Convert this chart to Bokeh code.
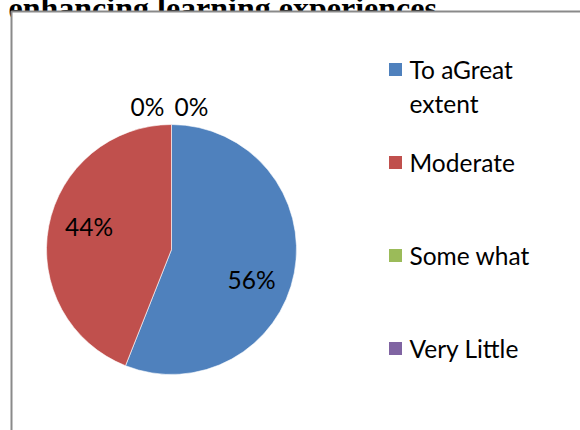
import math
from bokeh.plotting import figure
from bokeh.models import Range1d
from bokeh.core.properties import value
from bokeh.embed import file_html
from bokeh.resources import INLINE

# ---- data ----
categories = ["To aGreat extent", "Moderate", "Some what", "Very Little"]
legend_lines = [["To aGreat", "extent"], ["Moderate"], ["Some what"], ["Very Little"]]
values = [56, 44, 0, 0]
colors = ["#4F81BD", "#C0504D", "#9BBB59", "#8064A2"]
title_text = "enhancing learning experiences"

# ---- layout ----
W, H = 580, 430
CX, CY, R = 171, 249, 125
FONT = "Lato"
FS = "24.5px"

p = figure(width=W + 8, height=H + 8, x_range=Range1d(-8, W), y_range=Range1d(H, -8),
           output_backend="svg", toolbar_location=None, min_border=0)
p.margin = (-8, 0, -8, -8)
p.axis.visible = False
p.xgrid.visible = False
p.ygrid.visible = False
p.outline_line_color = None
p.background_fill_color = "white"
p.border_fill_color = "white"

# partially visible title
p.text(x=[8], y=[7], text=[title_text], text_font=value("Liberation Serif"),
       text_font_style="bold", text_font_size="32px", text_baseline="alphabetic",
       text_align="left", text_color="black")

# chart frame
p.quad(left=[11], right=[620], top=[11], bottom=[470], fill_color="white",
       line_color="#8a8a8a", line_width=2)

# pie
total = float(sum(values))
starts, ends, mids = [], [], []
a = math.pi / 2
for v in values:
    sweep = 2 * math.pi * v / total
    starts.append(a)
    ends.append(a - sweep)
    mids.append(a - sweep / 2)
    a -= sweep

nz = [i for i, v in enumerate(values) if v > 0]
p.wedge(x=CX, y=CY, radius=R, radius_units="screen",
        start_angle=[starts[i] for i in nz], end_angle=[ends[i] for i in nz],
        direction="clock", fill_color=[colors[i] for i in nz],
        line_color="white", line_width=0.6)

# data labels
lx, ly, lt = [], [], []
nudges = [-math.radians(10), -math.radians(5)]
zero_dx = [-24, 20]
zi = 0
ni = 0
for i, v in enumerate(values):
    lt.append(f"{round(100 * v / total)}%")
    if v > 0:
        ang = mids[i] + nudges[ni]
        ni += 1
        d = 0.685 * R
        lx.append(CX + d * math.cos(ang))
        ly.append(CY - d * math.sin(ang))
    else:
        lx.append(CX + zero_dx[zi])
        zi += 1
        ly.append(CY - 1.145 * R)
p.text(x=lx, y=ly, text=lt, text_font=value(FONT), text_font_size=FS,
       text_align="center", text_baseline="middle", text_color="black")

# legend
LEG_X, LEG_Y0, LEG_DY, LINE_H = 395, 69, 93, 34
sq_x, sq_y, tx, ty, tt = [], [], [], [], []
for i, lines in enumerate(legend_lines):
    yc = LEG_Y0 + i * LEG_DY
    sq_x.append(LEG_X)
    sq_y.append(yc)
    for j, line in enumerate(lines):
        tx.append(LEG_X + 14)
        ty.append(yc + j * LINE_H)
        tt.append(line)
p.rect(x=sq_x, y=sq_y, width=13, height=13, fill_color=colors, line_color=None)
p.text(x=tx, y=ty, text=tt, text_font=value(FONT), text_font_size=FS,
       text_align="left", text_baseline="middle", text_color="black")

open("out.html", "w").write(file_html(p, INLINE))
